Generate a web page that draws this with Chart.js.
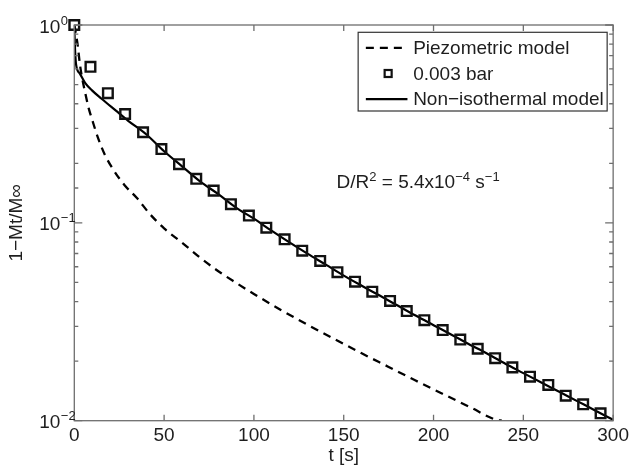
<!DOCTYPE html>
<html>
<head>
<meta charset="utf-8">
<script src="https://cdn.jsdelivr.net/npm/chart.js@4.4.0/dist/chart.umd.min.js"></script>
<style>
  body { margin: 0; background: #fff; }
  #wrap { width: 633px; height: 467px; }
</style>
</head>
<body>
<div id="wrap"><canvas id="c"></canvas></div>
<script>
// data
var markerT = [0, 9, 18.7, 28.3, 38.3, 48.5, 58.3, 67.9, 77.6, 87.2, 97.2, 106.9, 117.1, 126.9, 136.9, 146.5,
  156.3, 165.9, 175.8, 185.1, 194.9, 205.1, 214.9, 224.6, 234.3, 243.9, 253.7, 263.9, 273.6, 283.3, 293];
var markerY = [1.0, 0.615, 0.452, 0.355, 0.287, 0.236, 0.198, 0.167, 0.1455, 0.1243, 0.1089, 0.0945, 0.0826,
  0.0723, 0.0642, 0.0563, 0.0504, 0.0449, 0.0403, 0.0358, 0.0322, 0.0287, 0.0257, 0.0231, 0.0207, 0.0186,
  0.0167, 0.01516, 0.01338, 0.0121, 0.0109];

var nonisoT = [0, 0.3, 1, 3, 6, 10, 15, 23, 30, 40, 50, 60, 70, 80, 90, 100, 110, 120, 130, 140, 150, 160,
  170, 180, 190, 200, 210, 220, 230, 240, 250, 260, 270, 280, 290, 300];
var nonisoY = [1.0, 0.80, 0.63, 0.57, 0.51, 0.466, 0.425, 0.37, 0.328, 0.2805, 0.230, 0.193, 0.162, 0.140,
  0.1194, 0.105, 0.0910, 0.0794, 0.0697, 0.0615, 0.0541, 0.0481, 0.0429, 0.0382, 0.0340, 0.0304, 0.0272,
  0.0243, 0.0218, 0.0194, 0.0174, 0.0156, 0.0140, 0.01256, 0.01127, 0.0101];

var piezoT = [0, 1, 2, 3, 4, 6, 8, 10, 13, 17, 22, 28, 35, 42, 50, 60, 70, 80, 90, 100, 115, 130, 145, 160,
  175, 190, 205, 220, 235, 238];
var piezoY = [1.0, 0.891, 0.776, 0.646, 0.562, 0.457, 0.380, 0.331, 0.272, 0.221, 0.184, 0.155, 0.133, 0.111,
  0.0938, 0.0794, 0.0667, 0.0571, 0.0498, 0.0437, 0.0363, 0.0305, 0.0258, 0.0219, 0.0187, 0.01596, 0.01368,
  0.01175, 0.01009, 0.0100];

var seriesNames = ['Piezometric model', '0.003 bar', 'Non\u2212isothermal model'];
var xTickStep = 50;
var yExponents = [0, -1, -2];

var textColor = '#1e1e1e';
var axisColor = '#6e6e6e';
var fontFam = "'Liberation Sans', Arial, sans-serif";

function pts(xs, ys) {
  return xs.map(function (v, i) { return { x: v, y: ys[i] }; });
}

function isPow10(v) {
  var l = Math.log10(v);
  return Math.abs(l - Math.round(l)) < 1e-6;
}

// draw text made of normal / superscript parts, left aligned
function drawParts(ctx, parts, x, base) {
  parts.forEach(function (p) {
    ctx.font = (p.sup ? '13px ' : '19px ') + fontFam;
    ctx.fillText(p.t, x, p.sup ? base - 7 : base);
    x += ctx.measureText(p.t).width;
  });
}

var boxPlugin = {
  id: 'matlabBox',
  afterDraw: function (chart) {
    var ctx = chart.ctx, a = chart.chartArea;
    var xs = chart.scales.x, ys = chart.scales.y;
    ctx.save();

    // frame and inward ticks
    ctx.strokeStyle = axisColor;
    ctx.lineWidth = 1.3;
    ctx.strokeRect(a.left, a.top, a.right - a.left, a.bottom - a.top);
    ctx.beginPath();
    xs.ticks.forEach(function (t) {
      var px = xs.getPixelForValue(t.value);
      ctx.moveTo(px, a.bottom); ctx.lineTo(px, a.bottom - 6);
      ctx.moveTo(px, a.top); ctx.lineTo(px, a.top + 6);
    });
    ys.ticks.forEach(function (t) {
      var py = ys.getPixelForValue(t.value);
      var len = isPow10(t.value) ? 8 : 4;
      ctx.moveTo(a.left, py); ctx.lineTo(a.left + len, py);
      ctx.moveTo(a.right, py); ctx.lineTo(a.right - len, py);
    });
    ctx.stroke();

    // y tick labels 10^k
    ctx.fillStyle = textColor;
    ctx.textBaseline = 'alphabetic';
    yExponents.forEach(function (e) {
      var py = ys.getPixelForValue(Math.pow(10, e));
      ctx.font = '19px ' + fontFam;
      ctx.textAlign = 'right';
      ctx.fillText('10', a.left - 14, py + 7.5);
      ctx.textAlign = 'left';
      ctx.font = '13px ' + fontFam;
      ctx.fillText(e < 0 ? '\u2212' + (-e) : String(e), a.left - 13.5, py - 0.5);
    });

    // annotation
    ctx.textAlign = 'left';
    drawParts(ctx, [
      { t: 'D/R' }, { t: '2', sup: true }, { t: ' = 5.4x10' }, { t: '\u22124', sup: true },
      { t: ' s' }, { t: '\u22121', sup: true }
    ], xs.getPixelForValue(146), ys.getPixelForValue(0.1495));

    // legend
    var ds = chart.data.datasets;
    var bx = a.right - 255, by = a.top + 7.3, bw = 249, bh = 78.7;
    ctx.fillStyle = '#fff';
    ctx.fillRect(bx, by, bw, bh);
    ctx.strokeStyle = '#333';
    ctx.lineWidth = 1.2;
    ctx.strokeRect(bx, by, bw, bh);
    [0, 1, 2].forEach(function (i) {
      var d = ds[i];
      var cy = by + 15.5 + i * 25.7;
      ctx.strokeStyle = d.borderColor;
      if (d.showLine === false) {
        ctx.lineWidth = 2.2;
        ctx.setLineDash([]);
        ctx.strokeRect(bx + 30 - 3.5, cy - 3.5, 7, 7);
      } else {
        ctx.lineWidth = d.borderWidth;
        ctx.setLineDash(d.borderDash || []);
        ctx.beginPath();
        ctx.moveTo(bx + 7.7, cy);
        ctx.lineTo(bx + 49.3, cy);
        ctx.stroke();
        ctx.setLineDash([]);
      }
      ctx.fillStyle = textColor;
      ctx.font = '19px ' + fontFam;
      ctx.textBaseline = 'middle';
      ctx.fillText(d.label, bx + 55, cy + 1);
    });
    ctx.restore();
  }
};

new Chart(document.getElementById('c'), {
  type: 'line',
  data: {
    datasets: [
      {
        label: seriesNames[0],
        data: pts(piezoT, piezoY),
        borderColor: '#000',
        borderWidth: 2.3,
        borderDash: [8, 6],
        pointRadius: 0,
        cubicInterpolationMode: 'monotone',
        order: 2
      },
      {
        label: seriesNames[1],
        data: pts(markerT, markerY),
        showLine: false,
        clip: false,
        borderColor: '#111',
        backgroundColor: 'rgba(0,0,0,0)',
        pointStyle: 'rect',
        pointRadius: 6.8,
        pointBorderWidth: 2.4,
        order: 0
      },
      {
        label: seriesNames[2],
        data: pts(nonisoT, nonisoY),
        borderColor: '#000',
        borderWidth: 2.2,
        pointRadius: 0,
        cubicInterpolationMode: 'monotone',
        order: 1
      }
    ]
  },
  options: {
    responsive: true,
    maintainAspectRatio: false,
    animation: false,
    layout: { padding: { top: 25, right: 18.7, left: 0, bottom: 0 } },
    plugins: { legend: { display: false }, tooltip: { enabled: false } },
    scales: {
      x: {
        type: 'linear',
        min: 0,
        max: 300,
        grid: { display: false, drawTicks: false },
        border: { display: false },
        ticks: { stepSize: xTickStep, padding: 4, maxRotation: 0, color: textColor,
          font: { size: 19, family: fontFam } },
        title: { display: true, text: 't [s]', color: textColor, padding: { top: 0, bottom: 0 },
          font: { size: 19, family: fontFam } },
        afterFit: function (s) { s.height = 46.3; }
      },
      y: {
        type: 'logarithmic',
        min: 0.01,
        max: 1,
        grid: { display: false, drawTicks: false },
        border: { display: false },
        ticks: { display: false },
        title: { display: true, text: '1\u2212Mt/M\u221e', color: textColor, padding: { top: 5.6, bottom: 0 },
          font: { size: 19, family: fontFam } },
        afterFit: function (s) { s.width = 74.3; }
      }
    }
  },
  plugins: [boxPlugin]
});
</script>
</body>
</html>
